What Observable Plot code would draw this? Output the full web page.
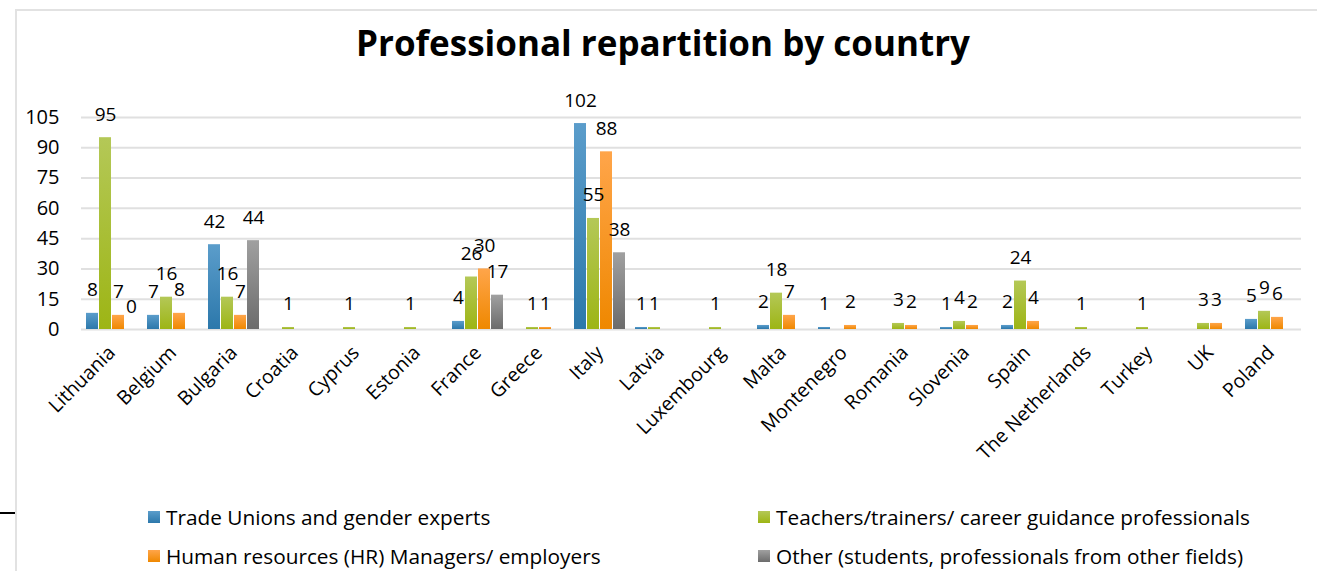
<!DOCTYPE html>
<html>
<head>
<meta charset="utf-8">
<script src="https://cdn.jsdelivr.net/npm/d3@7"></script>
<script src="https://cdn.jsdelivr.net/npm/@observablehq/plot@0.6"></script>
<style>
  html, body { margin: 0; padding: 0; background: #fff; }
  #wrap { position: relative; width: 1317px; height: 571px; overflow: hidden; font-family: "Open Sans", sans-serif; color: #000; }
  #frame { position: absolute; left: 15px; top: 9px; right: 0; bottom: -5px; border-left: 2px solid #e2e2e2; border-top: 2px solid #e2e2e2; }
  #dash { position: absolute; left: 0; top: 512px; width: 15px; height: 2px; background: #000; }
  #title { position: absolute; left: 0; width: 1326px; top: 20px; text-align: center; font-weight: 700; font-size: 35px; line-height: 46px; }
  #chart { position: absolute; left: 0; top: 80px; }
  #chart svg { overflow: visible; }
  #chart g[aria-label^="fx-axis"] text { font-size: 19.5px; }
  .leg { position: absolute; display: flex; align-items: center; font-size: 20.8px; line-height: 26px; white-space: nowrap; }
  .sw { width: 12px; height: 12px; margin-right: 6px; }
</style>
</head>
<body>
<div id="wrap">
  <svg width="0" height="0" style="position:absolute">
    <defs>
      <linearGradient id="gBlue" x1="0" y1="0" x2="0" y2="1"><stop offset="0" stop-color="#5b9dcb"/><stop offset="1" stop-color="#2c78ab"/></linearGradient>
      <linearGradient id="gGreen" x1="0" y1="0" x2="0" y2="1"><stop offset="0" stop-color="#b4c857"/><stop offset="1" stop-color="#9db515"/></linearGradient>
      <linearGradient id="gOrange" x1="0" y1="0" x2="0" y2="1"><stop offset="0" stop-color="#ffa54a"/><stop offset="1" stop-color="#ef8800"/></linearGradient>
      <linearGradient id="gGray" x1="0" y1="0" x2="0" y2="1"><stop offset="0" stop-color="#a0a0a0"/><stop offset="1" stop-color="#6c6c6c"/></linearGradient>
    </defs>
  </svg>
  <div id="frame"></div>
  <div id="dash"></div>
  <div id="title">Professional repartition by country</div>
  <div id="chart"></div>
  <div class="leg" style="left:148px; top:504px;"><div class="sw" style="background:linear-gradient(#5b9dcb,#2c78ab)"></div><span>Trade Unions and gender experts</span></div>
  <div class="leg" style="left:758px; top:504px;"><div class="sw" style="background:linear-gradient(#b4c857,#9db515)"></div><span>Teachers/trainers/ career guidance professionals</span></div>
  <div class="leg" style="left:148px; top:543px;"><div class="sw" style="background:linear-gradient(#ffa54a,#ef8800)"></div><span>Human resources (HR) Managers/ employers</span></div>
  <div class="leg" style="left:758px; top:543px;"><div class="sw" style="background:linear-gradient(#a0a0a0,#6c6c6c)"></div><span>Other (students, professionals from other fields)</span></div>
</div>
<script>
const countries = ["Lithuania","Belgium","Bulgaria","Croatia","Cyprus","Estonia","France","Greece","Italy","Latvia","Luxembourg","Malta","Montenegro","Romania","Slovenia","Spain","The Netherlands","Turkey","UK","Poland"];
const seriesNames = ["Trade Unions and gender experts","Teachers/trainers/ career guidance professionals","Human resources (HR) Managers/ employers","Other (students, professionals from other fields)"];
const tradeUnions = [8,7,42,null,null,null,4,null,102,1,null,2,1,null,1,2,null,null,null,5];
const teachers    = [95,16,16,1,1,1,26,1,55,1,1,18,null,3,4,24,1,1,3,9];
const hrManagers  = [7,8,7,null,null,null,30,1,88,null,null,7,2,2,2,4,null,null,3,6];
const others      = [0,null,44,null,null,null,17,null,38,null,null,null,null,null,null,null,null,null,null,null];
const yTicks = [0,15,30,45,60,75,90,105];
const fills = ["url(#gBlue)","url(#gGreen)","url(#gOrange)","url(#gGray)"];

const seriesValues = [tradeUnions, teachers, hrManagers, others];
const rows = [];
countries.forEach((c, i) => {
  seriesValues.forEach((arr, s) => {
    if (arr[i] !== null) rows.push({country: c, series: seriesNames[s], value: arr[i]});
  });
});

const plot = Plot.plot({
  width: 1317,
  height: 420,
  marginLeft: 79,
  marginRight: 14,
  marginTop: 37,
  marginBottom: 171,
  style: {fontFamily: "Open Sans, sans-serif", fontSize: "20px", color: "#000", background: "transparent"},
  fx: {domain: countries, padding: 0, label: null, tickSize: 0, tickPadding: 20, tickRotate: -45},
  x: {domain: seriesNames, axis: null, paddingInner: 0.1, paddingOuter: 0.37},
  y: {domain: [0, 105], ticks: yTicks, tickSize: 0, tickPadding: 22, label: null},
  color: {type: "ordinal", domain: seriesNames, range: fills},
  marks: [
    Plot.ruleY(yTicks, {stroke: "#e0e0e0", strokeWidth: 2}),
    Plot.barY(rows, {fx: "country", x: "series", y: "value", fill: "series"}),
    Plot.text(rows, {fx: "country", x: "series", y: "value", text: d => String(d.value), lineAnchor: "bottom", dy: -17, fontSize: 19, fill: "#000"})
  ]
});
document.getElementById("chart").appendChild(plot);
</script>
</body>
</html>
